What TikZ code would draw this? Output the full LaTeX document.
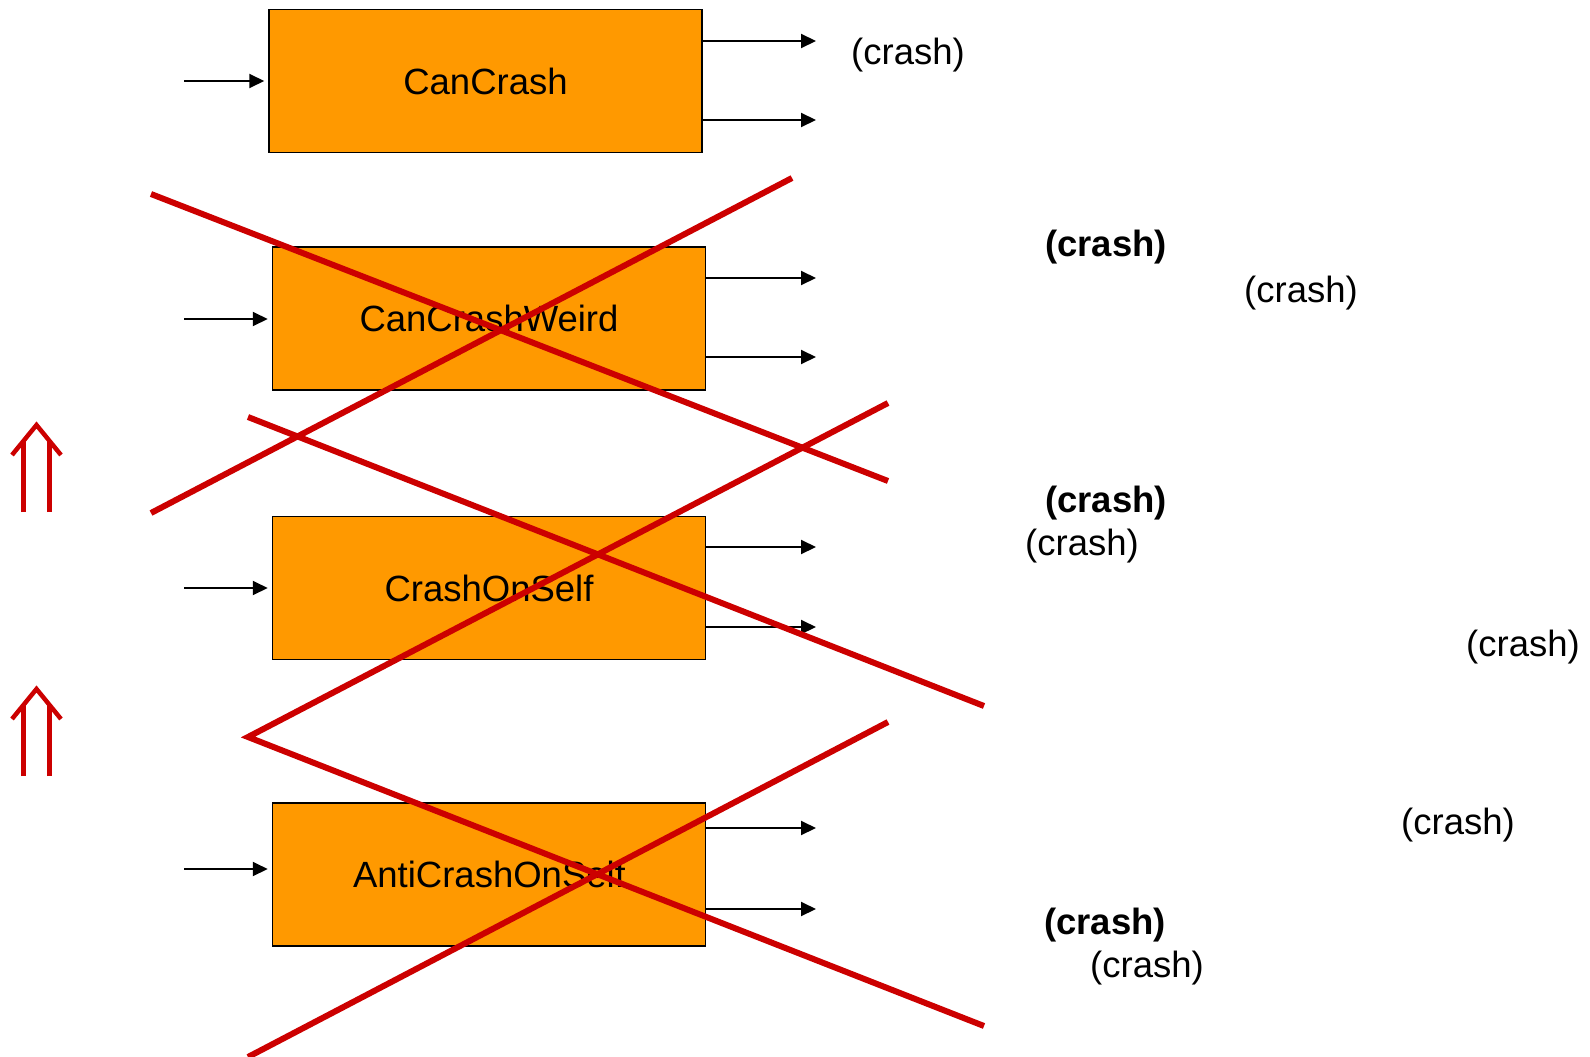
\documentclass[tikz,border=0pt]{standalone}
\usepackage{fontspec}
\setmainfont{Liberation Sans}
\usetikzlibrary{arrows.meta}

\definecolor{boxorange}{RGB}{255,153,0}
\definecolor{crossred}{RGB}{204,0,0}

\tikzset{
	machine/.style={draw=black,line width=1.5pt,fill=boxorange,minimum width=433pt,minimum height=143pt,inner sep=0pt,font=\fontsize{36.5}{40}\selectfont},
	flow/.style={line width=2pt,-{Triangle[length=15pt,width=14pt]}},
	crash/.style={font=\fontsize{36.5}{40}\selectfont},
	boldcrash/.style={font=\fontsize{36.5}{40}\selectfont\bfseries},
	cross/.style={draw=crossred,line width=6pt},
	impl/.style={draw=crossred,line width=4.5pt}
}

\begin{document}
\begin{tikzpicture}[x=1pt,y=-1pt]
		\useasboundingbox (0,0) rectangle (1590,1057);
		\node[machine] (b1) at (485.5,81) {CanCrash};
		\node[machine] (b2) at (489,318.5) {CanCrashWeird};
		\node[machine] (b3) at (489,588) {CrashOnSelf};
		\node[machine] (b4) at (489,874.5) {AntiCrashOnSelf};
		\foreach \n/\y/\ya/\yb in {1/81/41/120,2/319/278/357,3/588/547/627,4/869/828/909}
		{
			\coordinate (in\n) at (184,\y);
			\draw[flow] (in\n) -- ([xshift=-4pt]in\n -| b\n.west);
			\coordinate (outa\n) at (816,\ya);
			\coordinate (outb\n) at (816,\yb);
			\draw[flow] (outa\n -| b\n.east) -- (outa\n);
			\draw[flow] (outb\n -| b\n.east) -- (outb\n);
		}
		\node[crash] (c1) at (908,55) {(crash)};
		\node[boldcrash] (c2) at (1106,247) {(crash)};
		\node[crash] (c3) at (1301,293) {(crash)};
		\node[boldcrash] (c4) at (1106,503) {(crash)};
		\node[crash] (c5) at (1082,546) {(crash)};
		\node[crash] (c6) at (1523,647) {(crash)};
		\node[crash] (c7) at (1458,825) {(crash)};
		\node[boldcrash] (c8) at (1105,925) {(crash)};
		\node[crash] (c9) at (1147,968) {(crash)};
		% crossing out
		\draw[cross] (151,194) -- (888,481);
		\draw[cross] (151,513) -- (792,178);
		\draw[cross] (248,417) -- (984,706);
		\draw[cross] (888,403) -- (248,737) -- (984,1026);
		\draw[cross] (248,1057) -- (888,722);
		% implications
		\foreach \dy in {0,264}
		{
			\draw[impl] (12,455+\dy) -- (36.5,425+\dy) -- (61,455+\dy);
			\draw[impl] (23.5,512+\dy) -- (23.5,441+\dy);
			\draw[impl] (49.5,512+\dy) -- (49.5,441+\dy);
		}
	\end{tikzpicture}
\end{document}
